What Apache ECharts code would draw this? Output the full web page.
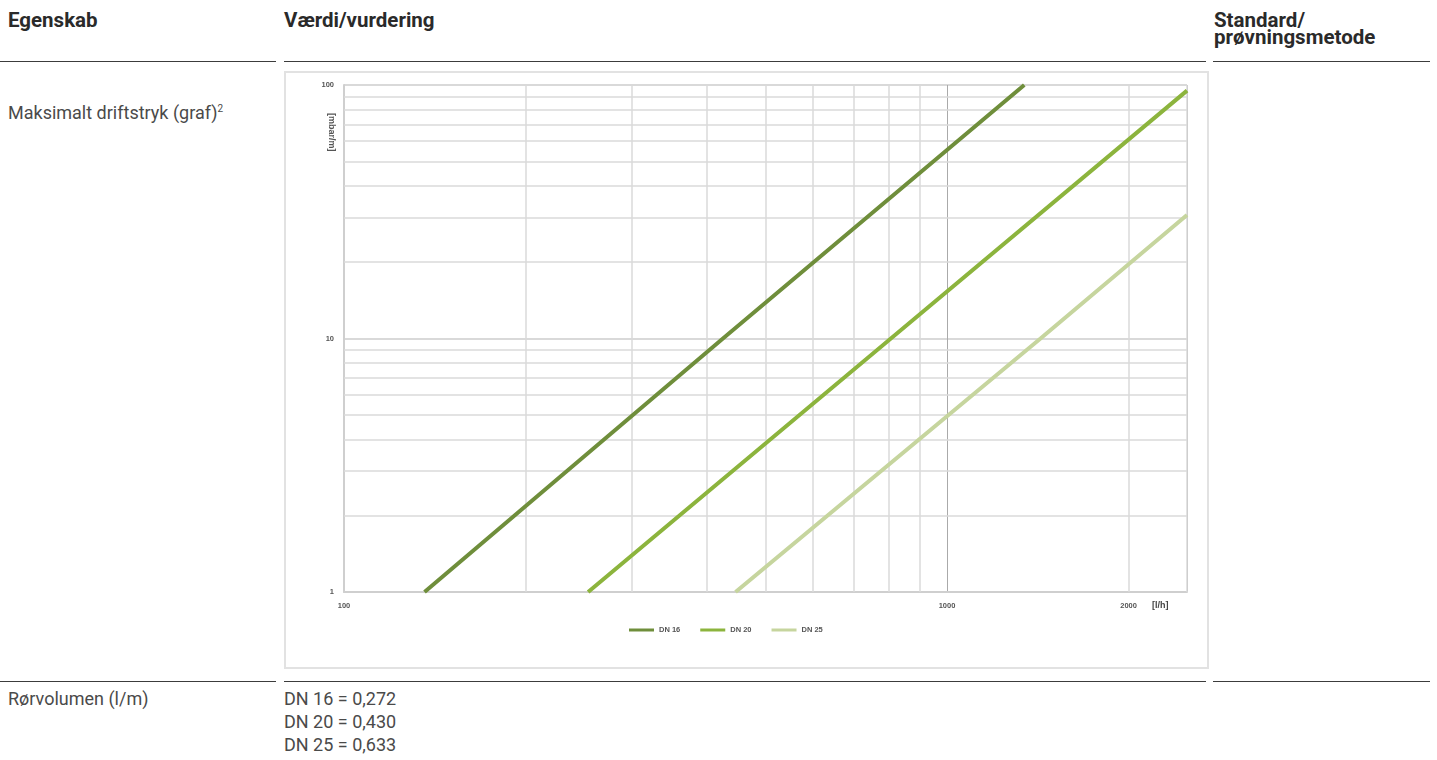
<!DOCTYPE html>
<html>
<head>
<meta charset="utf-8">
<script src="https://cdn.jsdelivr.net/npm/echarts@6/dist/echarts.min.js"></script>
<style>
  body { margin: 0; width: 1437px; height: 760px; background: #fff; font-family: Roboto, "Noto Sans", sans-serif; color: #3a3a3a; position: relative; overflow: hidden; }
  .h { position: absolute; font-weight: bold; font-size: 20.5px; line-height: 17px; color: #2a2a2a; }
  .t { position: absolute; font-size: 18px; line-height: 23px; color: #4a4a4a; }
  .rule { position: absolute; height: 1px; background: #3c3c3c; }
  #main { position: absolute; left: 284px; top: 71px; width: 925px; height: 598px; box-sizing: border-box; border: 2px solid #e2e2e2; }
</style>
</head>
<body>
  <div class="h" style="left:8px; top:12px">Egenskab</div>
  <div class="h" style="left:284px; top:12px">Værdi/vurdering</div>
  <div class="h" style="left:1214px; top:12px">Standard/<br>prøvningsmetode</div>
  <div class="rule" style="left:0; width:276px; top:61px"></div>
  <div class="rule" style="left:284px; width:922px; top:61px"></div>
  <div class="rule" style="left:1213px; width:217px; top:61px"></div>

  <div class="t" style="left:8px; top:97px">Maksimalt driftstryk (graf)<sup style="font-size:10px; vertical-align:7px">2</sup></div>
  <div id="main"></div>

  <div class="rule" style="left:0; width:276px; top:681px"></div>
  <div class="rule" style="left:284px; width:922px; top:681px"></div>
  <div class="rule" style="left:1213px; width:217px; top:681px"></div>
  <div class="t" style="left:8px; top:687px">Rørvolumen (l/m)</div>
  <div class="t" style="left:284px; top:687px">DN 16 = 0,272<br>DN 20 = 0,430<br>DN 25 = 0,633</div>

<script>
// flow [l/h] vs pressure drop [mbar/m]
var dn16 = [[136, 1], [425, 10], [1343, 100]]
var dn20 = [[254, 1], [807, 10], [2500, 95]]
var dn25 = [[446, 1], [1429, 10], [2500, 30.7]]
var xLabels = [100, 1000, 2000]
var xMinor = [200, 300, 400, 500, 600, 700, 800, 900, 2000, 2500]
var yMinor = [2, 3, 4, 5, 6, 7, 8, 9, 20, 30, 40, 50, 60, 70, 80, 90]

var chart = echarts.init(document.getElementById('main'))

var grid = []
xMinor.forEach(function (v) { grid.push({ xAxis: v }) })
yMinor.forEach(function (v) { grid.push({ yAxis: v }) })

var option = {
  animation: false,
  grid: { left: 58, top: 12, right: 20, bottom: 75 },
  legend: {
    left: 338, bottom: 28,
    icon: 'rect', itemWidth: 25, itemHeight: 3, itemGap: 20,
    textStyle: { fontSize: 7.5, color: '#555', fontWeight: 'bold' },
    data: ['DN 16', 'DN 20', 'DN 25']
  },
  graphic: [
    {
      type: 'text', left: 41, top: 40, rotation: -Math.PI / 2,
      style: { text: '[mbar/m]', fontSize: 9, fontWeight: 'bold', fill: '#555' }
    },
    {
      type: 'text', left: 866, top: 528,
      style: { text: '[l/h]', fontSize: 9, fontWeight: 'bold', fill: '#444' }
    }
  ],
  xAxis: {
    type: 'log', min: 100, max: 2500,
    axisLine: { lineStyle: { color: '#cfcfcf', width: 2 } },
    axisTick: { show: false },
    axisLabel: {
      customValues: xLabels, fontSize: 7.5, fontWeight: 'bold', color: '#555', margin: 10,
      formatter: function (v) { return String(v) }
    },
    splitLine: { show: true, lineStyle: { color: '#aaaaaa', width: 1 } }
  },
  yAxis: {
    type: 'log', min: 1, max: 100,
    axisLine: { show: true, lineStyle: { color: '#cfcfcf', width: 2 } },
    axisTick: { show: false },
    axisLabel: {
      fontSize: 7.5, fontWeight: 'bold', color: '#555', margin: 10,
      formatter: function (v) { return String(v) }
    },
    splitLine: { show: true, lineStyle: { color: '#cccccc', width: 1.5 } }
  },
  series: [
    {
      name: 'DN 16', type: 'line', data: dn16, showSymbol: false, z: 5,
      lineStyle: { color: '#6f8e3b', width: 4 }, itemStyle: { color: '#6f8e3b' },
      markLine: {
        silent: true, symbol: 'none', label: { show: false }, z: 1,
        lineStyle: { color: '#dadada', width: 1.5, type: 'solid' },
        data: grid
      }
    },
    {
      name: 'DN 20', type: 'line', data: dn20, showSymbol: false, z: 5,
      lineStyle: { color: '#8cb43d', width: 4 }, itemStyle: { color: '#8cb43d' }
    },
    {
      name: 'DN 25', type: 'line', data: dn25, showSymbol: false, z: 5,
      lineStyle: { color: '#c6d59e', width: 4 }, itemStyle: { color: '#c6d59e' }
    }
  ]
}

option && chart.setOption(option)
</script>
</body>
</html>
